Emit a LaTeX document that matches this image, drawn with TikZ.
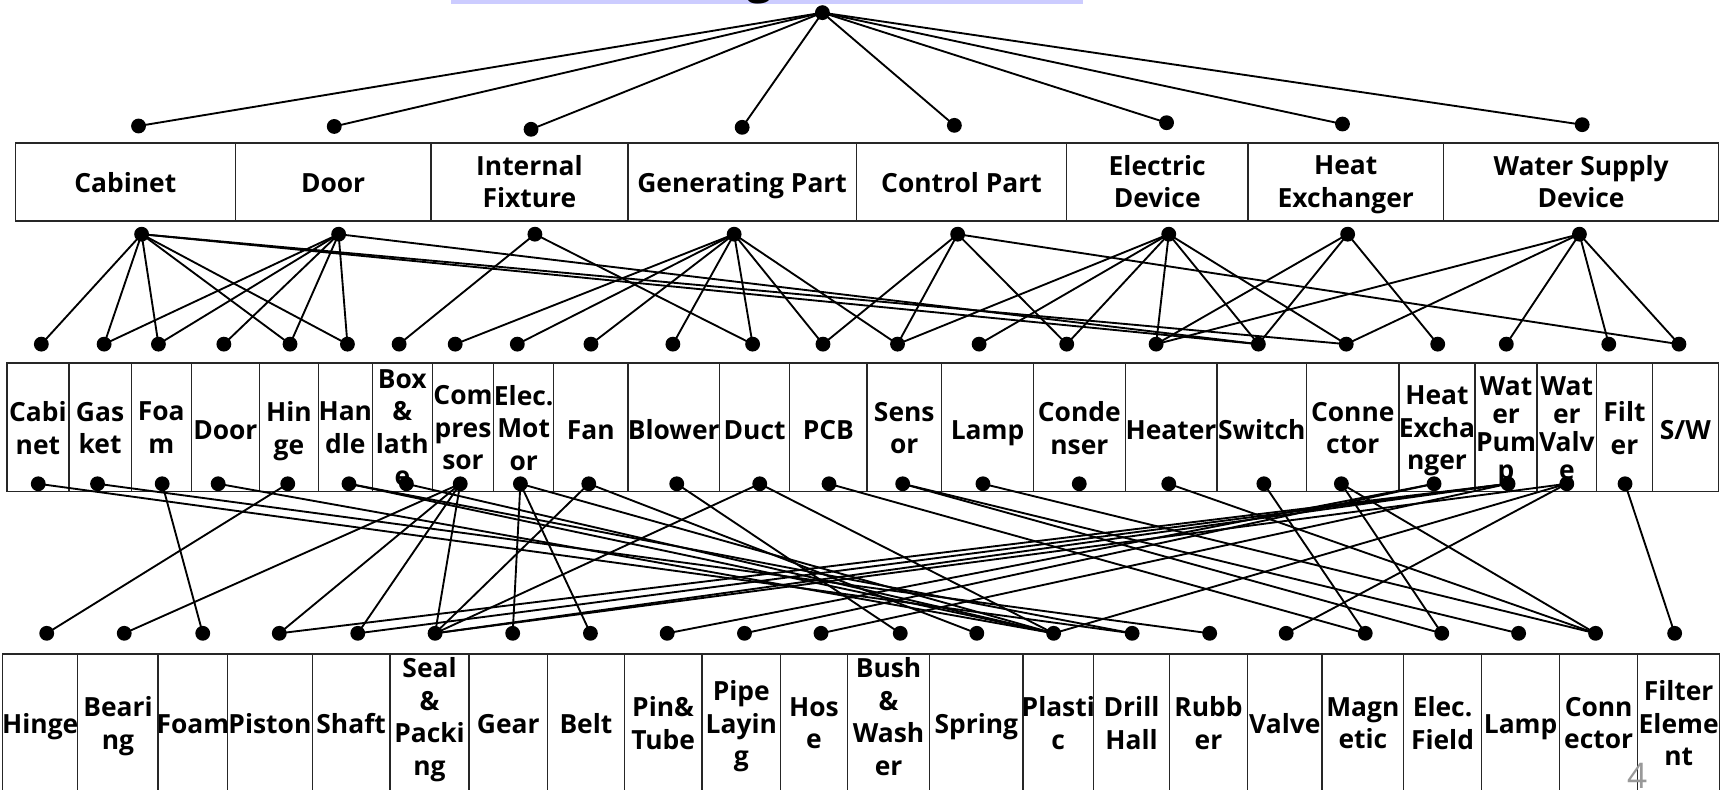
\documentclass[tikz,border=0pt]{standalone}
\usepackage{fontspec}
\setmainfont{Open Sans}
\definecolor{lav}{RGB}{204,204,255}
\begin{document}
\begin{tikzpicture}[x=1pt,y=-1pt,
  dot/.style={circle,fill=black,inner sep=0pt,minimum size=13.5pt},
  conn/.style={line width=1.7pt,black},
  cell/.style={draw=black!85,line width=1.3pt,inner sep=0pt},
  norm/.style={align=center,inner sep=0pt,font=\bfseries\fontsize{24}{29.5}\selectfont,
    execute at begin node=\strut,execute at end node=\strut},
  tight/.style={align=center,inner sep=0pt,font=\bfseries\fontsize{24}{25.5}\selectfont,
    execute at begin node=\strut,execute at end node=\strut}]
\useasboundingbox (0,0) rectangle (1568,718);
% title remnant
\fill[lav] (410,-20) rectangle (985,3.5);
\node[font=\bfseries\fontsize{40}{40}\selectfont,anchor=base,inner sep=0pt] (ttl) at (691,-6) {g};
% top row
\foreach \nm/\xa/\xb/\tx in {tCab/14/214/Cabinet, tDoor/214/392/Door, tIF/392/571/{Internal\\Fixture},
  tGP/571/779/{Generating Part}, tCP/779/970/{Control Part}, tED/970/1135/{Electric\\Device},
  tHE/1135/1313/{Heat\\Exchanger}, tWSD/1313/1563/{Water Supply\\Device}}{
  \node[cell,minimum width=\xb-\xa,minimum height=71] (\nm) at ({(\xa+\xb)/2},165.5) {};
  \node[norm] at ({(\xa+\xb)/2},169.5) {\tx};
}
% middle row
\foreach \nm/\xa/\xb/\tx/\st in {mCab/6.3/62.6/{Cabi\\net}/norm, mGas/62.6/119.4/{Gas\\ket}/norm,
  mFoam/119.4/174/{Foa\\m}/norm, mDoor/174/236/Door/norm, mHinge/236/289.5/{Hin\\ge}/norm,
  mHandle/289.5/338.6/{Han\\dle}/norm, mBox/338.6/393.2/{Box\\\&\\lath\\e}/norm,
  mComp/393.2/449/{Com\\pres\\sor}/norm, mMotor/449/503.6/{Elec.\\Mot\\or}/norm,
  mFan/503.6/571/Fan/norm, mBlower/571/654.5/Blower/norm, mDuct/654.5/718.2/Duct/norm,
  mPCB/718.2/788.5/PCB/norm, mSensor/788.5/856.4/{Sens\\or}/norm, mLamp/856.4/939.9/Lamp/norm,
  mCond/939.9/1023.4/{Conde\\nser}/norm, mHeater/1023.4/1106.8/Heater/norm,
  mSwitch/1106.8/1188.4/Switch/norm, mConn/1188.4/1272.3/{Conne\\ctor}/norm,
  mHeatEx/1272.3/1341.6/{Heat\\Excha\\nger}/norm, mWPump/1341.6/1397.9/{Wat\\er\\Pum\\p}/tight,
  mWValve/1397.9/1452.2/{Wat\\er\\Valv\\e}/tight, mFilter/1452.2/1502.8/{Filt\\er}/norm,
  mSW/1502.8/1563/{S/W}/norm}{
  \node[cell,minimum width=\xb-\xa,minimum height=117] (\nm) at ({(\xa+\xb)/2},388.5) {};
  \node[\st] at ({(\xa+\xb)/2},393.5) {\tx};
}
% bottom row
\foreach \nm/\xa/\xb/\tx/\ty in {bHinge/2.5/70.7/Hinge/661, bBear/70.7/143.8/{Beari\\ng}/662,
  bFoam/143.8/207/Foam/661, bPist/207/284/Piston/661, bShaft/284/354.8/Shaft/661,
  bSeal/354.8/426.5/{Seal\\\&\\Packi\\ng}/656, bGear/426.5/498/Gear/661, bBelt/498/567.8/Belt/661,
  bPin/567.8/638.4/{Pin\&\\Tube}/662, bPipe/638.4/710/{Pipe\\Layin\\g}/662, bHose/710/770.7/{Hos\\e}/662,
  bBush/770.7/845.6/{Bush\\\&\\Wash\\er}/656, bSpring/845.6/930.3/Spring/661,
  bPlas/930.3/994.7/{Plasti\\c}/662, bDrill/994.7/1063.6/{Drill\\Hall}/662,
  bRub/1063.6/1134.6/{Rubb\\er}/662, bValve/1134.6/1202.5/Valve/661,
  bMag/1202.5/1276.5/{Magn\\etic}/662, bElec/1276.5/1347.5/{Elec.\\Field}/662,
  bLamp/1347.5/1418.5/Lamp/661, bConn/1418.5/1489.5/{Conn\\ector}/662,
  bFilt/1489.5/1564/{Filter\\Eleme\\nt}/662}{
  \node[cell,minimum width=\xb-\xa,minimum height=140] (\nm) at ({(\xa+\xb)/2},665) {};
  \node[norm] at ({(\xa+\xb)/2},\ty) {\tx};
}
% page number
\node[font=\fontsize{32}{32}\selectfont,text=black!40,anchor=base,inner sep=0pt] (pg) at (1489,717) {4};
% dots
\node[dot] (r) at (748,11.5) {};
\foreach \nm/\x/\y in {t1/126/114.6, t2/304/115, t3/483/117.6, t4/675/115.8,
  t5/868/114, t6/1061/111.6, t7/1221/112.8, t8/1439/113.4}{
  \node[dot] (\nm) at (\x,\y) {};
}
\foreach \nm/\x in {b1/128.8, b2/308, b3/486.5, b4/667.7, b5/871, b6/1063, b7/1225.7, b8/1436.5}{
  \node[dot] (\nm) at (\x,213) {};
}
\foreach \nm/\x in {Cab/37.6, Gas/94.7, Foam/144.1, Door/203.6, Hinge/263.8, Handle/316, Box/363,
  Comp/414, Motor/470.5, Fan/537.5, Blower/612, Duct/684.5, PCB/748.5, Sensor/816.3, Lamp/890.5,
  Cond/970.2, Heater/1051.5, Switch/1144.5, Conn/1224.4, HeatEx/1307.6, WPump/1370,
  Filter/1463.2, SW/1527}{
  \node[dot] (u\nm) at (\x,313) {};
}
\foreach \nm/\x in {Cab/34.8, Gas/88.7, Foam/147.5, Door/198.4, Hinge/261.7, Handle/317.4, Box/369.6,
  Comp/418.6, Motor/473.3, Fan/535.5, Blower/615.5, Duct/691, PCB/754, Sensor/821, Lamp/894,
  Cond/981.6, Heater/1063, Switch/1149.5, Conn/1220, HeatEx/1304.3, WPump/1371.6, WValve/1425,
  Filter/1478}{
  \node[dot] (v\nm) at (\x,440) {};
}
\foreach \nm/\x in {Hinge/42.5, Bear/113, Foam/184.4, Pist/254, Shaft/325.4, Seal/395.7, Gear/466.3,
  Belt/537, Pin/606.8, Pipe/677.1, Hose/746.7, Bush/818.8, Spring/888.4, Plas/958.3, Drill/1029.7,
  Rub/1100.2, Valve/1169.8, Mag/1241.7, Elec/1311.3, Lamp/1381.2, Conn/1451.2, Filt/1523.1}{
  \node[dot] (w\nm) at (\x,576) {};
}
% connectors
\foreach \a/\b in {r/t1, r/t2, r/t3, r/t4, r/t5, r/t6, r/t7, r/t8,
  b1/uCab, b1/uGas, b1/uFoam, b1/uHinge, b1/uHandle, b1/uSwitch, b1/uConn,
  b2/uGas, b2/uFoam, b2/uDoor, b2/uHinge, b2/uHandle, b2/uSwitch,
  b3/uBox, b3/uDuct,
  b4/uComp, b4/uMotor, b4/uFan, b4/uBlower, b4/uDuct, b4/uPCB, b4/uSensor,
  b5/uPCB, b5/uSensor, b5/uCond, b5/uSW,
  b6/uSensor, b6/uLamp, b6/uCond, b6/uHeater, b6/uSwitch, b6/uConn,
  b7/uHeater, b7/uSwitch, b7/uHeatEx,
  b8/uHeater, b8/uConn, b8/uWPump, b8/uFilter, b8/uSW,
  vCab/wDrill, vGas/wRub, vFoam/wFoam, vDoor/wPlas, vHinge/wHinge, vHandle/wPlas, vHandle/wDrill,
  vBox/wPlas,
  vComp/wBear, vComp/wPist, vComp/wShaft, vComp/wSeal,
  vMotor/wGear, vMotor/wBelt, vMotor/wPlas,
  vFan/wSeal, vFan/wSpring, vBlower/wBush, vDuct/wSeal, vDuct/wPlas,
  vPCB/wMag, vSensor/wLamp, vSensor/wElec, vLamp/wConn, vHeater/wConn, vSwitch/wMag,
  vConn/wElec, vConn/wConn, vHeatEx/wPin, vHeatEx/wPipe,
  vWPump/wPist, vWPump/wShaft, vWPump/wSeal, vWPump/wHose,
  vWValve/wValve, vWValve/wPlas, vWValve/wSeal, vFilter/wFilt}{
  \draw[conn] (\a.center) -- (\b.center);
}
\end{tikzpicture}
\end{document}
